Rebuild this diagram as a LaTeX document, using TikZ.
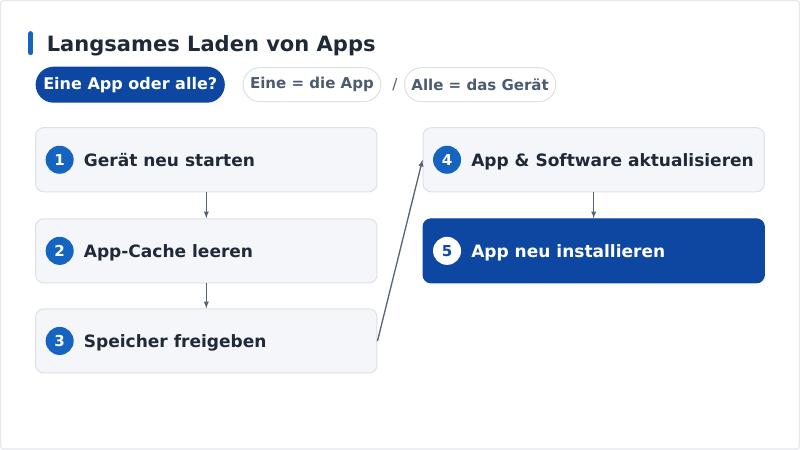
\documentclass[tikz,border=0pt]{standalone}
\usepackage{fontspec}
\setmainfont{DejaVu Sans}
\usetikzlibrary{arrows}
\definecolor{ink}{HTML}{1F2937}
\definecolor{slate}{HTML}{4B5B70}
\definecolor{edge}{HTML}{DDE1E7}
\definecolor{pale}{HTML}{F4F6FA}
\definecolor{accent}{HTML}{1565C0}
\definecolor{navy}{HTML}{0D47A1}
\definecolor{wire}{HTML}{566275}
\begin{document}
\begin{tikzpicture}[x=1pt,y=-1pt,
		stepbox/.style={draw=edge,fill=pale,line width=1pt,rounded corners=8pt,minimum width=341pt,minimum height=64pt},
		lastbox/.style={stepbox,draw=navy,fill=navy},
		badge/.style={circle,fill=accent,text=white,minimum size=28pt,inner sep=0pt,font=\fontsize{15}{15}\selectfont\bfseries},
		steptext/.style={anchor=base west,inner sep=0pt,text=ink,font=\fontsize{17}{20}\selectfont\bfseries},
		chip/.style={draw=edge,fill=white,line width=1pt,rounded corners=17pt,minimum height=34pt,inner xsep=7pt,text=slate,font=\fontsize{15}{18}\selectfont\bfseries},
		link/.style={draw=wire,line width=1.3pt,-latex}]
			% frame
			\draw[draw=edge!80,fill=white,line width=1.2pt,rounded corners=3pt] (1,1) rectangle (799,449);
			% title
			\draw[accent,line width=5pt,line cap=round] (31,34) -- (31,53);
			\node[anchor=base west,inner sep=0pt,text=ink,font=\fontsize{21}{24}\selectfont\bfseries] at (47,52) (title) {Langsames Laden von Apps};
			% question and chips
			\node[fill=navy,rounded corners=18pt,minimum width=189pt,minimum height=36pt,text=white,font=\fontsize{16}{19}\selectfont\bfseries] at (130.5,85) (question) {Eine App oder alle?};
			\node[chip,minimum width=136pt] at (312,85) (oneapp) {Eine = die App};
			\node[text=slate,font=\fontsize{15}{18}\selectfont] at (395,85) (slash) {/};
			\node[chip,minimum width=147pt] at (480,85) (allapps) {Alle = das Gerät};
			% steps
			\node[stepbox] at (206.5,160) (s1) {};
			\node[stepbox] at (206.5,251) (s2) {};
			\node[stepbox] at (206.5,341) (s3) {};
			\node[stepbox] at (593.5,160) (s4) {};
			\node[lastbox] at (593.5,251) (s5) {};
			\node[badge] at (60,160) (b1) {1};
			\node[badge] at (60,251) (b2) {2};
			\node[badge] at (60,341) (b3) {3};
			\node[badge] at (447,160) (b4) {4};
			\node[badge,fill=white,text=navy] at (447,251) (b5) {5};
			\node[steptext] at (84,166.5) (t1) {Gerät neu starten};
			\node[steptext] at (84,257.5) (t2) {App-Cache leeren};
			\node[steptext] at (84,347.5) (t3) {Speicher freigeben};
			\node[steptext] at (471,166.5) (t4) {App \& Software aktualisieren};
			\node[steptext,text=white] at (471,257.5) (t5) {App neu installieren};
			% arrows
			\draw[link] (s1) -- (s2);
			\draw[link] (s2) -- (s3);
			\draw[link] (s3.east) -- (s4.west);
			\draw[link] (s4) -- (s5);
		\end{tikzpicture}
\end{document}
